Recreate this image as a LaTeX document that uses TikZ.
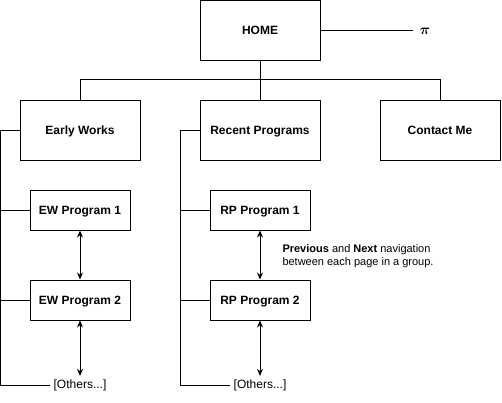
\documentclass[tikz,border=0pt]{standalone}
\usepackage{bm}
\usepackage{fontspec}
\setmainfont{Liberation Sans}
\usetikzlibrary{arrows.meta}

\begin{document}
\begin{tikzpicture}[x=1pt,y=-1pt,line width=1pt,
  font=\fontsize{12}{14}\selectfont,
  page/.style={draw,minimum width=120pt,minimum height=60pt,text height=8.6pt,text depth=0pt,font=\fontsize{12}{14}\selectfont\bfseries},
  subpage/.style={draw,minimum width=100pt,minimum height=40pt,text height=8.6pt,text depth=0pt,font=\fontsize{12}{14}\selectfont\bfseries},
  nav/.style={{Stealth[length=7pt,width=6pt]}-{Stealth[length=7pt,width=6pt]}}]
  \useasboundingbox (0,0) rectangle (502,402);

  % Top level
  \node[page] (home) at (260,30) {HOME};
  \node[inner sep=6pt,font=\fontsize{15}{17}\selectfont] (homesym) at (425,31) {$\bm{\pi}$};
  \draw (home.east) -- (home.east -| homesym.west);

  \node[page] (early) at (80,130) {Early Works};
  \node[page] (recent) at (260,130) {Recent Programs};
  \node[page] (contact) at (440,130) {Contact Me};
  \draw (home) -- (recent);
  \draw (early.north) -- ++(0,-20) -| (contact.north);

  % Early Works group
  \node[subpage] (ew1) at (80,210) {EW Program 1};
  \node[subpage] (ew2) at (80,300) {EW Program 2};
  \node[inner sep=3pt] (ewoth) at (80,385) {[Others...]};
  \coordinate (ewend) at (0.5,385);
  \draw (early.west) -| (ewend) -- (ewoth.west);
  \draw (ew1.west) -- (ew1.west -| ewend);
  \draw (ew2.west) -- (ew2.west -| ewend);
  \draw[nav] (ew1) -- (ew2);
  \draw[nav] (ew2) -- (ewoth);

  % Recent Programs group
  \node[subpage] (rp1) at (260,210) {RP Program 1};
  \node[subpage] (rp2) at (260,300) {RP Program 2};
  \node[inner sep=3pt] (rpoth) at (260,385) {[Others...]};
  \coordinate (rpend) at (180,385);
  \draw (recent.west) -| (rpend) -- (rpoth.west);
  \draw (rp1.west) -- (rp1.west -| rpend);
  \draw (rp2.west) -- (rp2.west -| rpend);
  \draw[nav] (rp1) -- (rp2);
  \draw[nav] (rp2) -- (rpoth);

  \node[anchor=west,align=left,inner sep=0pt,font=\fontsize{11}{13}\selectfont] (note) at (282,256)
    {\textbf{Previous} and \textbf{Next} navigation\\between each page in a group.};
\end{tikzpicture}
\end{document}
